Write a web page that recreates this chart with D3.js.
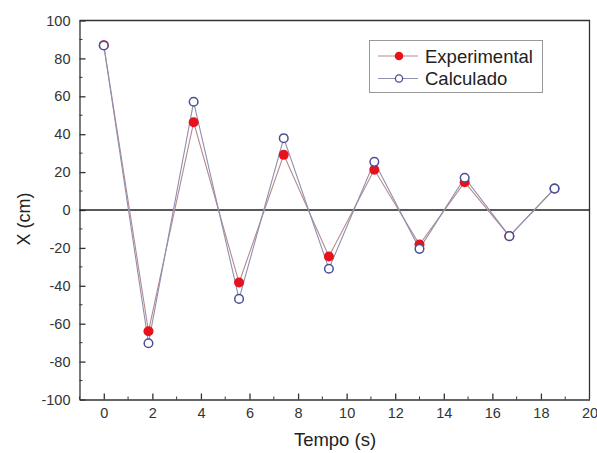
<!DOCTYPE html>
<html>
<head>
<meta charset="utf-8">
<script src="https://cdn.jsdelivr.net/npm/d3@7"></script>
<style>
  body { margin: 0; background: #fff; }
  text { font-family: "Liberation Sans", Arial, sans-serif; }
</style>
</head>
<body>
<script>
// data
const tempo = [0, 1.84, 3.70, 5.57, 7.41, 9.27, 11.14, 13.0, 14.86, 16.7, 18.56];
const experimental = [87, -64, 46.3, -38.3, 29.1, -24.5, 21.2, -18.2, 14.7, -13.8, 11.3];
const calculado = [86.8, -70.3, 57.1, -46.9, 37.9, -31.0, 25.4, -20.5, 17.0, -13.8, 11.3];
const xTicks = [0, 2, 4, 6, 8, 10, 12, 14, 16, 18, 20];
const yTicks = [-100, -80, -60, -40, -20, 0, 20, 40, 60, 80, 100];
const seriesNames = ['Experimental', 'Calculado'];

// config
const config = {
  width: 597,
  height: 453,
  left: 79.5,
  right: 589.5,
  top: 20.5,
  bottom: 399.5,
  red: '#e8121c',
  blue: '#4b4f95',
  redLine: '#b58a8f',
  blueLine: '#8f8fae',
  axis: '#333',
};

const svg = d3.select('body').append('svg')
  .attr('width', config.width)
  .attr('height', config.height);

const x = d3.scaleLinear().domain([-1, 20]).range([config.left, config.right]);
const y = d3.scaleLinear().domain([-100, 100]).range([config.bottom, config.top]);

// minor ticks
const xMinor = d3.range(-1, 20, 1).filter(v => v % 2 !== 0);
const yMinor = d3.range(-90, 100, 20);

// plain hyphen for negatives, like the original
const fmt = d => String(d);

// x axis, ticks pointing inward
const xAxis = svg.append('g')
  .attr('transform', `translate(0,${config.bottom})`)
  .call(d3.axisBottom(x).tickValues(xTicks).tickFormat(fmt).tickSizeInner(-6).tickSizeOuter(0).tickPadding(8));
xAxis.selectAll('.tick').filter(d => d === 20).select('line').remove();
xAxis.selectAll('.minor')
  .data(xMinor).enter().append('line')
  .attr('x1', d => x(d)).attr('x2', d => x(d))
  .attr('y1', 0).attr('y2', -3)
  .attr('stroke', config.axis);

const yAxis = svg.append('g')
  .attr('transform', `translate(${config.left},0)`)
  .call(d3.axisLeft(y).tickValues(yTicks).tickFormat(fmt).tickSizeInner(-6).tickSizeOuter(0).tickPadding(9));
yAxis.selectAll('.minor')
  .data(yMinor).enter().append('line')
  .attr('x1', 0).attr('x2', 3)
  .attr('y1', d => y(d)).attr('y2', d => y(d))
  .attr('stroke', config.axis);

svg.selectAll('.domain, .tick line').attr('stroke', config.axis).attr('stroke-width', 1.3);
svg.selectAll('.tick text')
  .attr('font-size', 14.5)
  .attr('fill', '#333');
xAxis.selectAll('.tick text').attr('dy', '0.71em');

// top and right frame
svg.append('path')
  .attr('d', `M${config.left},${config.top}H${config.right}V${config.bottom}`)
  .attr('fill', 'none')
  .attr('stroke', config.axis)
  .attr('stroke-width', 1.3);

// zero line
svg.append('line')
  .attr('x1', config.left).attr('x2', config.right)
  .attr('y1', y(0)).attr('y2', y(0))
  .attr('stroke', '#222')
  .attr('stroke-width', 1.3);

// axis titles
svg.append('text')
  .attr('x', 335)
  .attr('y', 446)
  .attr('text-anchor', 'middle')
  .attr('font-size', 18.5)
  .attr('fill', '#222')
  .text('Tempo (s)');

svg.append('text')
  .attr('transform', 'translate(30,219) rotate(-90)')
  .attr('text-anchor', 'middle')
  .attr('font-size', 18)
  .attr('fill', '#222')
  .text('X (cm)');

// lines
const line = d3.line().x(d => x(d[0])).y(d => y(d[1]));
const expPts = tempo.map((t, i) => [t, experimental[i]]);
const calPts = tempo.map((t, i) => [t, calculado[i]]);

svg.append('path')
  .attr('d', line(expPts))
  .attr('fill', 'none')
  .attr('stroke', config.redLine)
  .attr('stroke-width', 1.1);

svg.append('path')
  .attr('d', line(calPts))
  .attr('fill', 'none')
  .attr('stroke', config.blueLine)
  .attr('stroke-width', 1.1);

// markers
svg.selectAll('.exp')
  .data(expPts).enter().append('circle')
  .attr('cx', d => x(d[0])).attr('cy', d => y(d[1]))
  .attr('r', 5)
  .attr('fill', config.red);

svg.selectAll('.cal')
  .data(calPts).enter().append('circle')
  .attr('cx', d => x(d[0])).attr('cy', d => y(d[1]))
  .attr('r', 4.3)
  .attr('fill', '#fff')
  .attr('stroke', config.blue)
  .attr('stroke-width', 1.5);

// legend
const legend = svg.append('g');
legend.append('rect')
  .attr('x', 369.5).attr('y', 40.5)
  .attr('width', 173).attr('height', 52)
  .attr('fill', '#fff')
  .attr('stroke', '#999')
  .attr('stroke-width', 1);

seriesNames.forEach((name, i) => {
  const ly = 56 + i * 22.5;
  legend.append('line')
    .attr('x1', 378).attr('x2', 418)
    .attr('y1', ly).attr('y2', ly)
    .attr('stroke', i === 0 ? config.redLine : config.blueLine)
    .attr('stroke-width', 1.1);
  legend.append('circle')
    .attr('cx', 399).attr('cy', ly)
    .attr('r', i === 0 ? 4.3 : 3.6)
    .attr('fill', i === 0 ? config.red : '#fff')
    .attr('stroke', i === 0 ? 'none' : config.blue)
    .attr('stroke-width', 1.3);
  legend.append('text')
    .attr('x', 425).attr('y', ly + 6.5)
    .attr('font-size', 18.5)
    .attr('fill', '#222')
    .text(name);
});
</script>
</body>
</html>
